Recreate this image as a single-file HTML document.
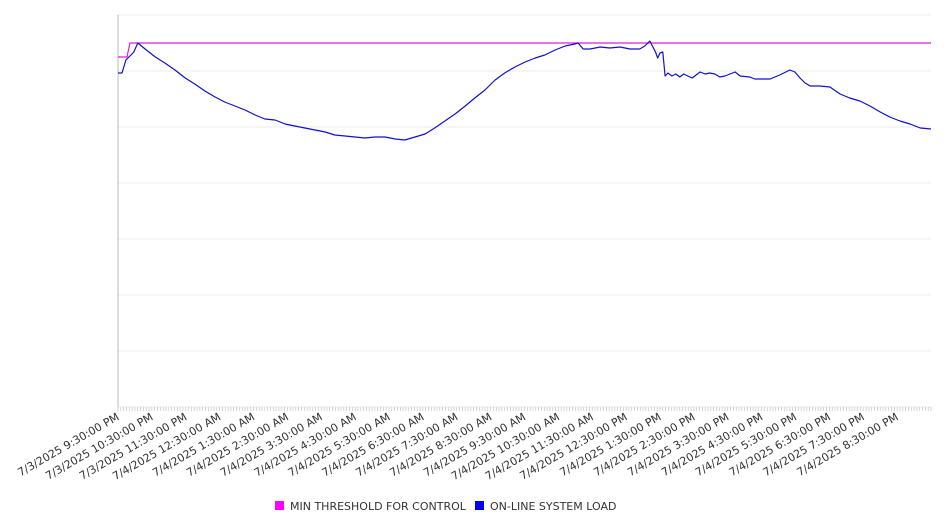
<!DOCTYPE html>
<html><head><meta charset="utf-8"><style>
html,body{margin:0;padding:0;background:#fff;}
svg{display:block;font-family:"DejaVu Sans","Liberation Sans",sans-serif;}
</style></head><body>
<svg id="chart" width="946" height="526" xmlns="http://www.w3.org/2000/svg"></svg>
<script>
const loadMinutes=[0,7,14,21,28,35,48,66,83,101,119,136,154,172,189,207,225,243,260,278,296,313,331,349,367,384,402,420,437,455,473,491,508,526,544,561,579,597,615,632,650,668,685,703,721,739,756,774,792,809,815,824,836,854,871,889,907,924,933,942,952,956,960,965,969,974,981,988,995,1002,1009,1017,1024,1031,1040,1048,1057,1066,1075,1084,1093,1102,1119,1128,1146,1155,1172,1190,1199,1208,1217,1226,1243,1261,1279,1296,1314,1332,1350,1367,1385,1403,1421,1440];
const loadValues=[3340,3340,3470,3510,3550,3640,3580,3500,3440,3370,3290,3230,3160,3100,3050,3010,2970,2920,2880,2870,2830,2810,2790,2770,2750,2720,2710,2700,2690,2700,2700,2680,2670,2700,2730,2790,2860,2930,3010,3090,3170,3270,3340,3400,3450,3490,3520,3570,3610,3630,3640,3580,3580,3600,3590,3600,3580,3580,3610,3660,3550,3490,3540,3550,3310,3340,3310,3330,3300,3330,3310,3290,3320,3350,3330,3340,3330,3300,3310,3330,3350,3310,3300,3280,3280,3280,3320,3370,3350,3290,3240,3210,3210,3200,3130,3090,3060,3010,2950,2900,2860,2830,2790,2780];
const threshMinutes=[0,16,21,1440];
const threshValues=[3500,3500,3640,3640];
const tickLabels=["7/3/2025 9:30:00 PM","7/3/2025 10:30:00 PM","7/3/2025 11:30:00 PM","7/4/2025 12:30:00 AM","7/4/2025 1:30:00 AM","7/4/2025 2:30:00 AM","7/4/2025 3:30:00 AM","7/4/2025 4:30:00 AM","7/4/2025 5:30:00 AM","7/4/2025 6:30:00 AM","7/4/2025 7:30:00 AM","7/4/2025 8:30:00 AM","7/4/2025 9:30:00 AM","7/4/2025 10:30:00 AM","7/4/2025 11:30:00 AM","7/4/2025 12:30:00 PM","7/4/2025 1:30:00 PM","7/4/2025 2:30:00 PM","7/4/2025 3:30:00 PM","7/4/2025 4:30:00 PM","7/4/2025 5:30:00 PM","7/4/2025 6:30:00 PM","7/4/2025 7:30:00 PM","7/4/2025 8:30:00 PM"];
const yMax=3920, yStep=560, xMax=1440;
const L=118,R=931,T=15,B=407;
const xs=m=>L+m/xMax*(R-L);
const ys=v=>B-v/yMax*(B-T);
const svg=document.getElementById('chart');
const NS='http://www.w3.org/2000/svg';
function mk(tag,attrs,parent){const e=document.createElementNS(NS,tag);for(const k in attrs)e.setAttribute(k,attrs[k]);(parent||svg).appendChild(e);return e;}
const grid=mk('g',{});


for(let v=0;v<=yMax;v+=yStep){const l=mk('line',{x1:L,x2:R,y1:ys(v),y2:ys(v),stroke:'#ebebeb','stroke-width':1},grid);

}
const ticks=mk('g',{});


for(let m=0;m<=xMax;m+=5){mk('line',{x1:xs(m),x2:xs(m),y1:B,y2:B+4,stroke:'#bbb','stroke-width':0.6},ticks);}
const ax=mk('line',{x1:L,x2:L,y1:T,y2:B,stroke:'#bbb'});


const labs=mk('g',{});


tickLabels.forEach((t,i)=>{const x=xs(i*60)+2,y=B+12;const tx=mk('text',{x:x,y:y,'text-anchor':'end','font-size':11,fill:'#333',transform:`rotate(-30 ${x} ${y})`},labs);tx.textContent=t;

});
function path(mins,vals){return mins.map((m,i)=>(i?'L':'M')+xs(m).toFixed(1)+','+ys(vals[i]).toFixed(1)).join('');}
const th=mk('path',{d:path(threshMinutes,threshValues),fill:'none',stroke:'#e01ee0','stroke-width':1.2});


const ld=mk('path',{d:path(loadMinutes,loadValues),fill:'none',stroke:'#1010d0','stroke-width':1.2,'stroke-linejoin':'round'});


const lg=mk('g',{});


const e1=mk('g',{},lg);


mk('rect',{x:275,y:501,width:9,height:9,fill:'#ff00ff'},e1);
const t1=mk('text',{x:290,y:510,'font-size':11,fill:'#333'},e1);t1.textContent='MIN THRESHOLD FOR CONTROL';
const e2=mk('g',{},lg);


mk('rect',{x:475,y:501,width:9,height:9,fill:'#0000ff'},e2);
const t2=mk('text',{x:490,y:510,'font-size':11,fill:'#333'},e2);t2.textContent='ON-LINE SYSTEM LOAD';
</script>
</body></html>
